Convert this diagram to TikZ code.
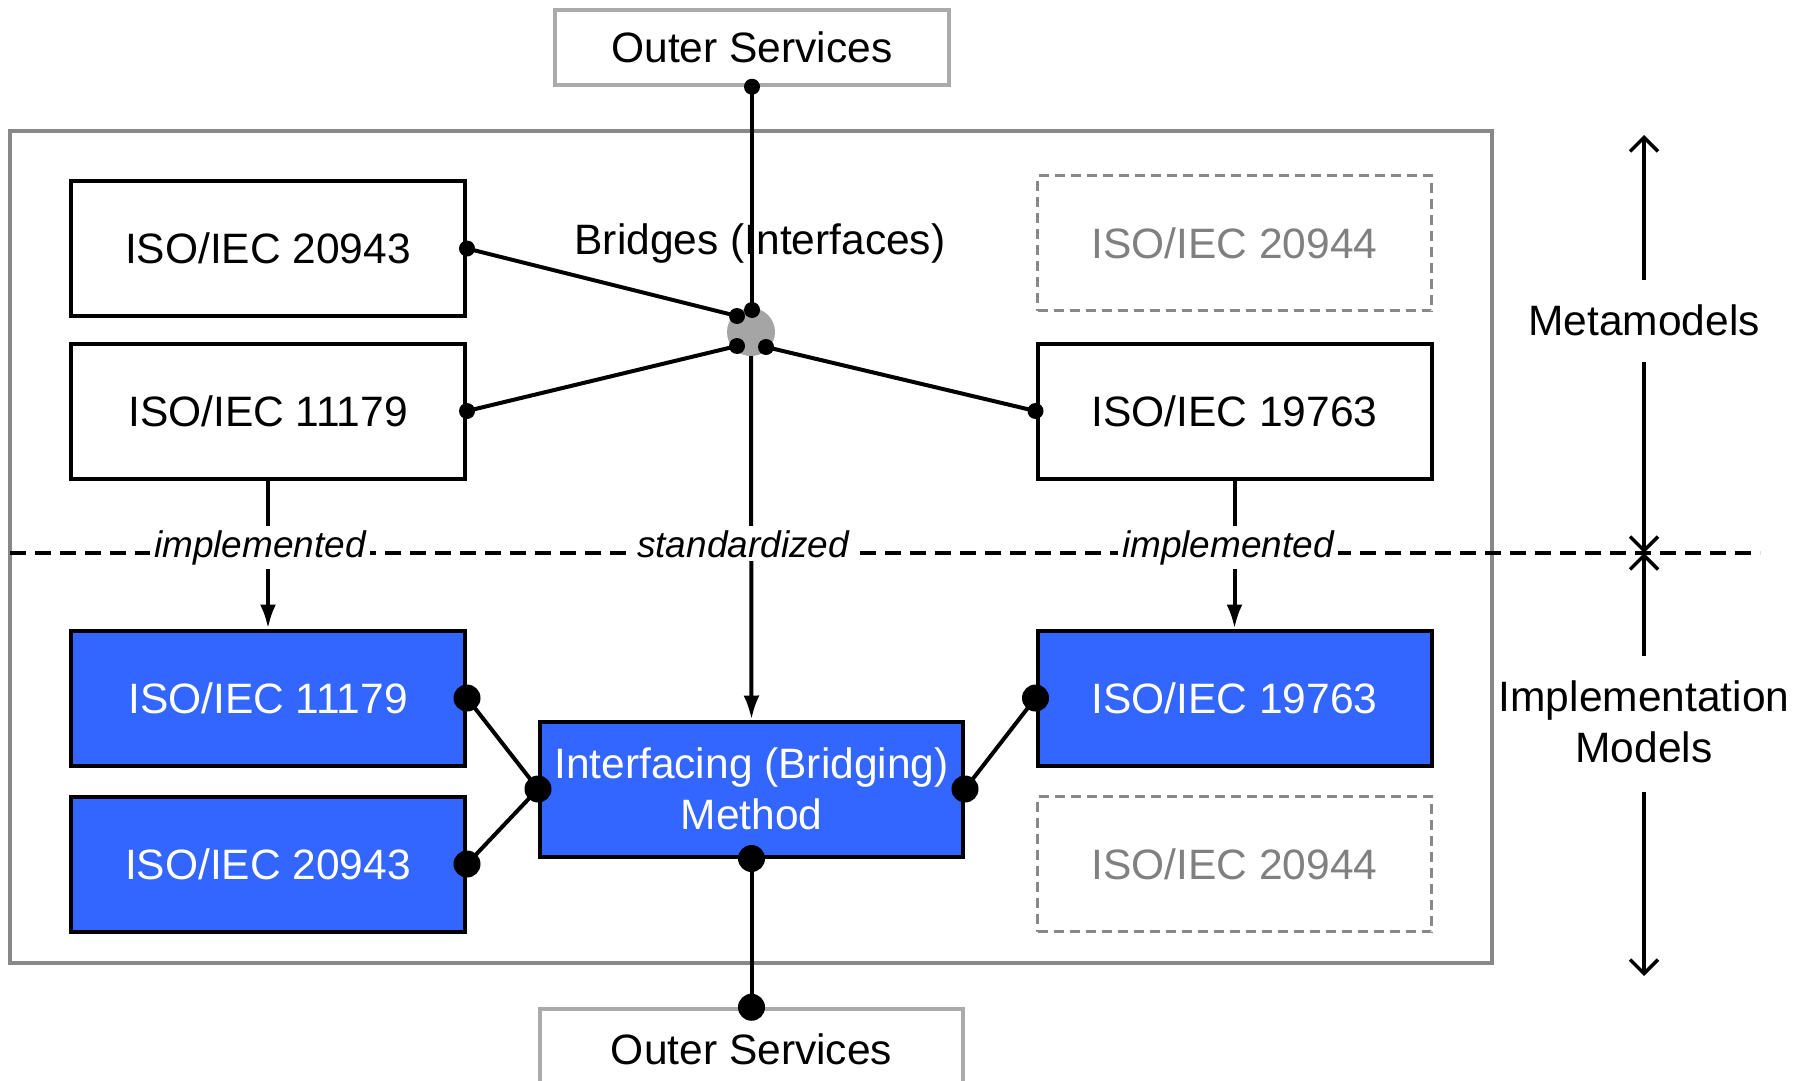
\documentclass[tikz,border=0pt]{standalone}
\usepackage{fontspec}
\setmainfont{Liberation Sans}
\usetikzlibrary{arrows.meta}
\definecolor{blu}{RGB}{51,102,255}
\definecolor{framegray}{RGB}{136,136,136}
\definecolor{svcgray}{RGB}{170,170,170}
\definecolor{ghostgray}{RGB}{136,136,136}
\definecolor{ghosttext}{RGB}{128,128,128}
\definecolor{hubgray}{RGB}{165,165,165}
\tikzset{
  box/.style={draw=black, line width=4pt, minimum width=394pt, minimum height=135pt,
    inner sep=0pt, fill=white, font=\fontsize{42.5}{50}\selectfont, align=center},
  bluebox/.style={box, fill=blu, text=white},
  ghost/.style={box, draw=ghostgray, line width=3.5pt, dash pattern=on 10pt off 6pt, text=ghosttext},
  svc/.style={draw=svcgray, line width=3.5pt, fill=white, inner sep=0pt,
    font=\fontsize{42.5}{50}\selectfont},
  conn/.style={line width=4pt, draw=black},
  sdot/.style={circle, fill=black, inner sep=0pt, minimum size=16pt},
  bdot/.style={circle, fill=black, inner sep=0pt, minimum size=27pt},
  lbl/.style={fill=white, inner sep=4pt, anchor=base, font=\fontsize{37}{44}\selectfont\itshape},
  sidetext/.style={align=center, font=\fontsize{42.5}{51}\selectfont, inner sep=0pt},
  barb/.style={line width=3.5pt, -{Straight Barb[length=14pt, width=28pt, line width=3.5pt]}},
  fillarrow/.style={conn, -{Latex[length=24pt, width=16pt]}}
}
\begin{document}
\begin{tikzpicture}[x=1pt, y=-1pt]
\useasboundingbox (0,0) rectangle (1804,1081);
\clip (0,0) rectangle (1804,1081);
% frame
\draw[draw=framegray, line width=4.5pt] (10,131) rectangle (1492,963);
% dashed separator
\coordinate (dl) at (10,553);
\coordinate (dr) at (1760,553);
\draw[line width=3.5pt, dash pattern=on 16pt off 9pt] (dl) -- (dr);
% boxes
\node[svc, minimum width=394pt, minimum height=75pt] (os1) at (752,47.5) {Outer Services};
\node[box] (a20943) at (268,248.5) {ISO/IEC 20943};
\node[box] (a11179) at (268,411) {ISO/IEC 11179};
\node[ghost] (a20944) at (1234.5,243) {ISO/IEC 20944};
\node[box] (a19763) at (1234.5,411) {ISO/IEC 19763};
\node[bluebox] (b11179) at (268,698) {ISO/IEC 11179};
\node[bluebox] (b20943) at (268,864) {ISO/IEC 20943};
\node[bluebox, minimum width=423pt, font=\fontsize{42.5}{51}\selectfont] (im) at (751.5,789) {Interfacing (Bridging)\\Method};
\node[bluebox] (b19763) at (1234.5,698) {ISO/IEC 19763};
\node[ghost] (b20944) at (1234.5,864) {ISO/IEC 20944};
\node[svc, minimum width=423pt, minimum height=81pt] (os2) at (751.5,1049.5) {Outer Services};
% hub
\node[circle, fill=hubgray, inner sep=0pt, minimum size=48pt] (hub) at (751,332) {};
\coordinate (hA) at (737,316);
\coordinate (hB) at (752,310);
\coordinate (hC) at (737,346);
\coordinate (hD) at (766,347);
% connectors
\draw[conn] (a20943.east) -- (hA);
\draw[conn] (a11179.east) -- (hC);
\draw[conn] (a19763.west) -- (hD);
\draw[conn] (os1.south) -- (hB);
\draw[fillarrow] (hub.south) -- (im.north);
\draw[fillarrow] (a11179.south) -- (b11179.north);
\draw[fillarrow] (a19763.south) -- (b19763.north);
\draw[conn] (b11179.east) -- (im.west);
\draw[conn] (b20943.east) -- (im.west);
\draw[conn] (b19763.west) -- (im.east);
\draw[conn] (im.south) -- (os2.north);
% labels on the separator
\node[lbl] (l1) at (260,557) {implemented};
\node[lbl] (l2) at (743,557) {standardized};
\node[lbl] (l3) at (1228,557) {implemented};
% dots
\foreach \p in {a20943.east, a11179.east, a19763.west, os1.south, hA, hB, hC, hD}
  \node[sdot] at (\p) {};
\foreach \p in {b11179.east, b20943.east, im.west, im.east, b19763.west, im.south, os2.north}
  \node[bdot] at (\p) {};
% bridges label
\node[font=\fontsize{42.5}{50}\selectfont, inner sep=0pt] (br) at (760,244) {Bridges (Interfaces)};
% right side
\node[sidetext] (meta) at (1644,320) {Metamodels};
\node[sidetext] (impl) at (1644,722) {Implementation\\Models};
\coordinate (mtop) at (1644,135);
\coordinate (mmid) at (1644,553);
\coordinate (mbot) at (1644,976);
\coordinate (ma) at (1644,280);
\coordinate (mb) at (1644,362);
\coordinate (mc) at (1644,656);
\coordinate (md) at (1644,792);
\draw[barb] (ma) -- (mtop);
\draw[barb] (mb) -- (mmid);
\draw[barb] (mc) -- (mmid);
\draw[barb] (md) -- (mbot);
\end{tikzpicture}
\end{document}
